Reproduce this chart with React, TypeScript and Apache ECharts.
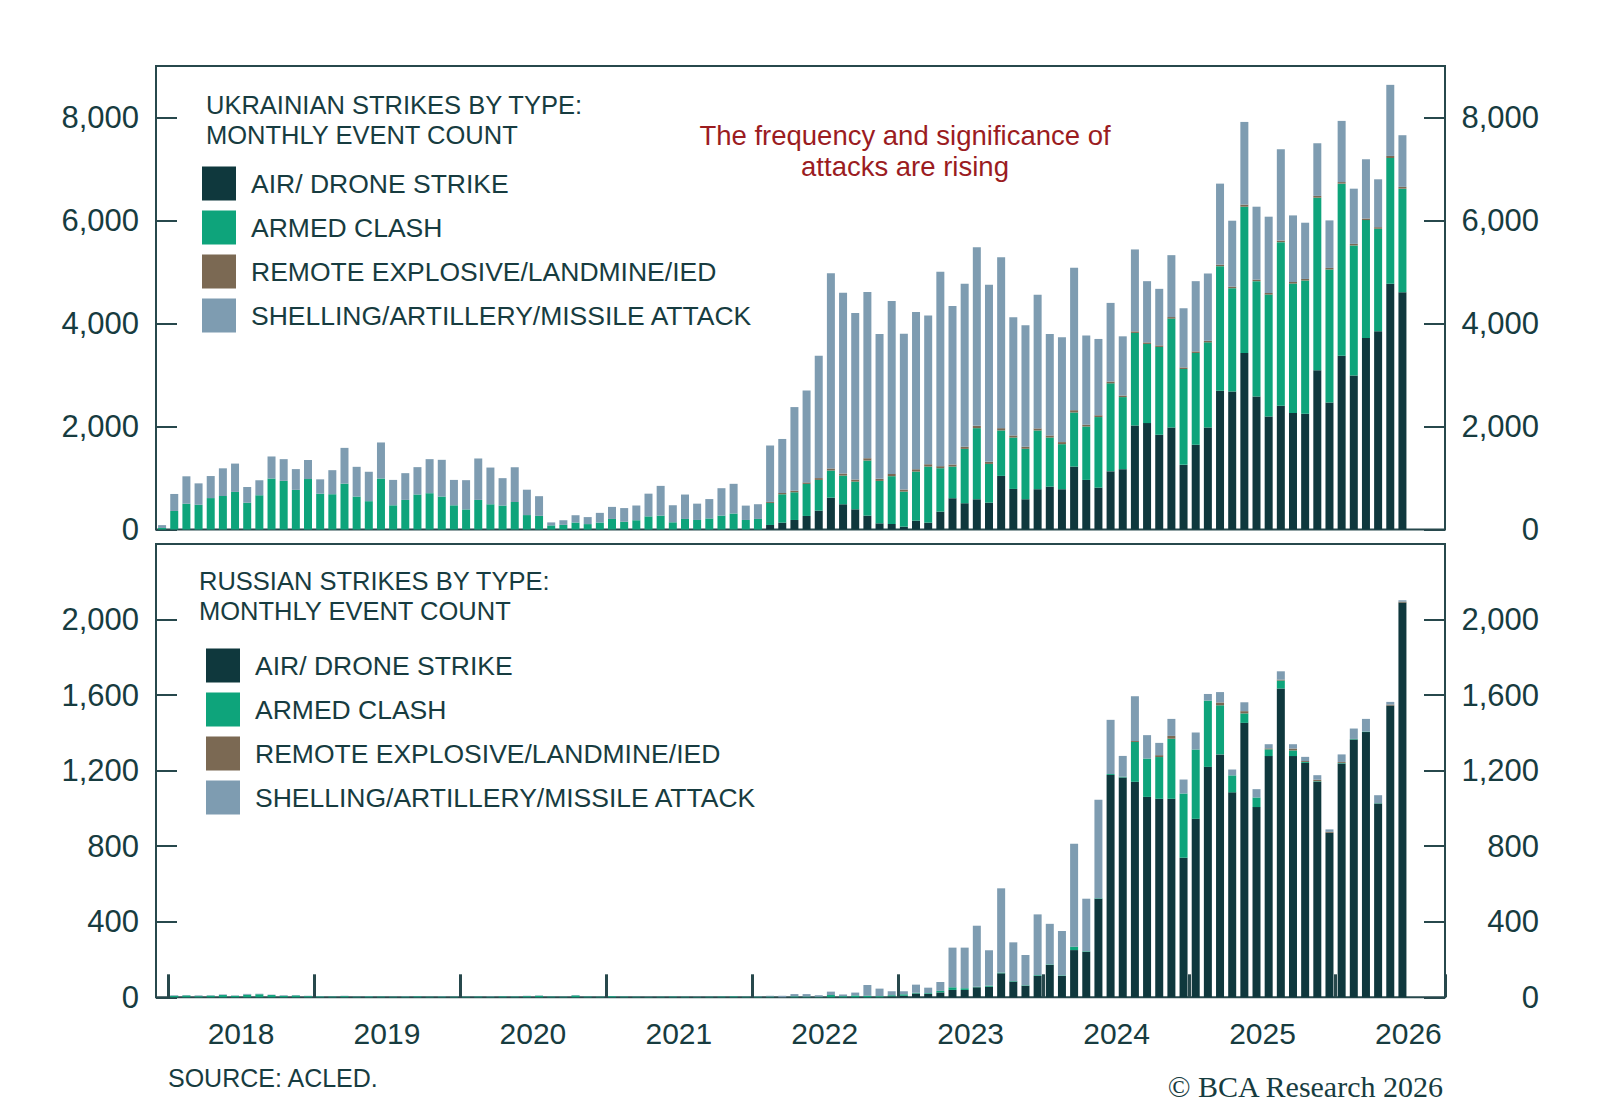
import React, { useEffect, useRef } from 'react';
import * as echarts from 'echarts';

// ---------- categories (monthly, Dec 2017 .. Sep 2026) ----------
const START_YEAR = 2017;
const START_MONTH = 11; // December (0-based)
const N_CATS = 106;
const categories: string[] = Array.from({ length: N_CATS }, (_, i) => {
  const m = START_MONTH + i;
  const y = START_YEAR + Math.floor(m / 12);
  return `${y}-${String((m % 12) + 1).padStart(2, '0')}`;
});
const yearLabels = ['2018', '2019', '2020', '2021', '2022', '2023', '2024', '2025', '2026'];
const seriesNames = [
  'AIR/ DRONE STRIKE',
  'ARMED CLASH',
  'REMOTE EXPLOSIVE/LANDMINE/IED',
  'SHELLING/ARTILLERY/MISSILE ATTACK',
];

// ---------- Ukrainian strikes (top panel) ----------
const ukrAir = [
  0, 0, 0, 0, 0, 0, 0, 0, 0, 0, 0, 0, 0,
  0, 0, 0, 0, 0, 0, 0, 0, 0, 0, 0, 0,
  0, 0, 0, 0, 0, 0, 0, 0, 0, 0, 0, 0,
  0, 0, 0, 0, 0, 0, 0, 0, 0, 0, 0, 0,
  0, 88, 133, 185, 263, 366, 619, 490, 392, 269, 120, 107, 55,
  172, 133, 347, 607, 510, 587, 522, 1041, 788, 587, 782, 833,
  782, 1222, 963, 813, 1130, 1171, 2020, 2066, 1838, 1981, 1255, 1644,
  1981, 2695, 2681, 3428, 2584, 2195, 2403, 2261, 2247, 3090, 2467, 3375,
  2992, 3720, 3848, 4770, 4607,
];
const ukrClash = [
  30, 360, 500, 480, 610, 650, 730, 520, 665, 990, 945, 770, 980,
  695, 685, 890, 640, 550, 990, 470, 575, 680, 705, 640, 470,
  390, 575, 490, 465, 535, 280, 265, 80, 90, 135, 105, 135,
  205, 150, 180, 255, 270, 140, 205, 185, 215, 270, 310, 185,
  205, 428, 551, 538, 622, 597, 526, 557, 538, 1070, 824, 928, 681,
  953, 1089, 843, 615, 1056, 1381, 752, 882, 998, 979, 1141, 953,
  875, 1050, 1037, 1370, 1708, 1400, 1797, 1537, 1707, 2114, 1862, 1784,
  1653, 2418, 2004, 2840, 2238, 2367, 3177, 2515, 2588, 3353, 2582, 3341,
  2524, 2288, 1992, 2444, 2011,
];
const ukrRemote = [
  0, 0, 0, 0, 0, 0, 0, 0, 0, 0, 0, 0, 0,
  0, 0, 0, 0, 0, 0, 0, 0, 0, 0, 0, 0,
  0, 0, 0, 0, 0, 0, 0, 0, 0, 0, 0, 0,
  0, 0, 0, 0, 0, 0, 0, 0, 0, 0, 0, 0,
  0, 20, 25, 30, 30, 35, 40, 40, 40, 45, 40, 45, 40,
  45, 45, 40, 40, 40, 45, 40, 45, 40, 40, 40, 40,
  40, 45, 35, 35, 35, 30, 30, 30, 30, 30, 30, 30,
  30, 30, 30, 40, 30, 30, 30, 30, 30, 35, 30, 30,
  30, 30, 30, 40, 35,
];
const ukrShelling = [
  55, 330, 533, 416, 428, 538, 550, 305, 292, 428, 421, 403, 370,
  279, 467, 695, 577, 571, 700, 493, 519, 531, 661, 713, 493,
  568, 804, 713, 532, 674, 493, 382, 58, 90, 142, 136, 188,
  234, 266, 286, 441, 577, 331, 474, 317, 376, 532, 577, 279,
  286, 1095, 1049, 1624, 1786, 2377, 3792, 3508, 3236, 3230, 2813, 3359, 3027,
  3055, 2887, 3774, 3080, 3164, 3470, 3437, 3320, 2295, 2359, 2593, 1971,
  2035, 2764, 1730, 1482, 1527, 1150, 1591, 1189, 1098, 1202, 1149, 1364,
  1307, 1573, 1281, 1606, 1416, 1482, 1773, 1293, 1092, 1022, 923, 1188,
  1072, 1151, 930, 1380, 1003,
];

// ---------- Russian strikes (bottom panel) ----------
const rusAir = [
  0, 0, 0, 0, 0, 0, 0, 0, 0, 0, 0, 0, 0,
  0, 0, 0, 0, 0, 0, 0, 0, 0, 0, 0, 0,
  0, 0, 0, 0, 0, 0, 0, 0, 0, 0, 0, 0,
  0, 0, 0, 0, 0, 0, 0, 0, 0, 0, 0, 0,
  0, 0, 0, 0, 0, 0, 0, 0, 0, 0, 0, 5, 8,
  20, 18, 26, 39, 39, 53, 56, 127, 83, 61, 113, 171,
  113, 250, 241, 522, 1177, 1164, 1141, 1061, 1051, 1051, 739, 945,
  1220, 1286, 1085, 1453, 1007, 1277, 1635, 1277, 1241, 1141, 871, 1238,
  1365, 1404, 1026, 1545, 2090,
];
const rusClash = [
  0, 8, 10, 6, 9, 12, 8, 14, 16, 12, 8, 10, 6,
  5, 4, 6, 3, 5, 4, 3, 4, 5, 3, 4, 3,
  3, 4, 3, 5, 4, 6, 8, 4, 3, 10, 4, 3,
  6, 4, 3, 2, 3, 4, 3, 2, 3, 4, 5, 3,
  3, 4, 0, 5, 4, 3, 12, 6, 10, 8, 6, 6, 8,
  4, 4, 8, 14, 9, 3, 6, 4, 3, 3, 4, 3,
  3, 18, 3, 3, 5, 4, 211, 203, 221, 318, 340, 367,
  351, 260, 90, 50, 51, 36, 42, 30, 5, 3, 0, 3,
  3, 3, 2, 0, 0,
];
const rusRemote = [
  0, 0, 0, 0, 0, 0, 0, 0, 0, 0, 0, 0, 0,
  0, 0, 0, 0, 0, 0, 0, 0, 0, 0, 0, 0,
  0, 0, 0, 0, 0, 0, 0, 0, 0, 0, 0, 0,
  0, 0, 0, 0, 0, 0, 0, 0, 0, 0, 0, 0,
  0, 0, 0, 0, 0, 0, 0, 0, 0, 0, 0, 0, 0,
  0, 0, 0, 0, 0, 0, 0, 0, 0, 0, 0, 0,
  0, 0, 0, 0, 0, 0, 5, 0, 10, 15, 0, 0,
  0, 15, 0, 12, 0, 5, 5, 10, 5, 8, 5, 5,
  0, 0, 0, 5, 5,
];
const rusShelling = [
  0, 3, 2, 4, 2, 3, 2, 4, 3, 2, 3, 2, 2,
  2, 1, 2, 1, 2, 1, 1, 2, 1, 1, 2, 1,
  1, 1, 2, 1, 1, 2, 2, 1, 1, 2, 1, 1,
  1, 1, 1, 1, 1, 1, 1, 1, 1, 1, 1, 1,
  2, 4, 8, 12, 13, 8, 18, 9, 15, 57, 40, 21, 16,
  43, 29, 47, 210, 215, 323, 187, 446, 205, 160, 322, 215,
  235, 545, 278, 521, 287, 110, 237, 124, 65, 90, 74, 90,
  35, 55, 31, 47, 44, 22, 44, 23, 22, 24, 13, 40,
  55, 67, 42, 14, 7,
];

// ---------- styling ----------
const COLORS = ['#0f383d', '#0ea47b', '#7b6953', '#7e9cb1'];
const TEXT = '#173c40';
const FRAME = '#27484c';
const RED = '#9b1c1f';
const FONT = "'Liberation Sans', Arial, sans-serif";

const fmt = (v: number) => v.toLocaleString('en-US');

function makeYAxis(grid: number, pos: 'left' | 'right', max: number, interval: number) {
  return {
    type: 'value',
    gridIndex: grid,
    position: pos,
    min: 0,
    max,
    interval,
    splitLine: { show: false },
    axisLine: { show: false },
    axisTick: { show: true, inside: true, length: 21, lineStyle: { color: FRAME, width: 2 } },
    axisLabel: {
      showMaxLabel: false,
      margin: pos === 'left' ? 17 : 94,
      align: 'right',
      fontSize: 31,
      color: TEXT,
      fontFamily: FONT,
      formatter: fmt,
    },
  };
}

function makeSeries(prefix: string, xi: number, yi: number, arrays: number[][]) {
  return arrays.map((d, k) => ({
    name: seriesNames[k],
    type: 'bar',
    stack: prefix,
    xAxisIndex: xi,
    yAxisIndex: yi,
    barWidth: 8,
    data: d,
    itemStyle: { color: COLORS[k] },
    emphasis: { disabled: true },
  }));
}

function makeLegend(left: number, top: number) {
  return {
    left,
    top,
    orient: 'vertical',
    icon: 'rect',
    itemWidth: 34,
    itemHeight: 34,
    itemGap: 10,
    padding: 0,
    selectedMode: false,
    data: seriesNames,
    textStyle: { fontSize: 26.5, color: TEXT, fontFamily: FONT, padding: [0, 0, 0, 10] },
  };
}

function txt(text: string, x: number, y: number, opts: any = {}) {
  return {
    type: 'text',
    x,
    y,
    silent: true,
    style: {
      text,
      fill: opts.fill || TEXT,
      font: opts.font || `25.5px ${FONT}`,
      lineHeight: opts.lineHeight || 30,
      textAlign: opts.align || 'left',
      textVerticalAlign: 'top',
    },
  };
}

export default function App() {
  const ref = useRef<HTMLDivElement>(null);
  useEffect(() => {
    if (!ref.current) return;
    const chart = echarts.init(ref.current, undefined, { renderer: 'svg' });
    const option: any = {
      animation: false,
      backgroundColor: '#ffffff',
      grid: [
        { left: 156, top: 66, width: 1289, height: 463.5, show: true, borderColor: FRAME, borderWidth: 2, backgroundColor: 'transparent' },
        { left: 156, top: 544, width: 1289, height: 453.3, show: true, borderColor: FRAME, borderWidth: 2, backgroundColor: 'transparent' },
      ],
      xAxis: [
        {
          type: 'category',
          gridIndex: 0,
          data: categories,
          axisLine: { show: false },
          axisTick: { show: false },
          axisLabel: { show: false },
        },
        {
          type: 'category',
          gridIndex: 1,
          data: categories,
          axisLine: { show: false },
          axisTick: {
            show: true,
            inside: true,
            length: 23,
            interval: (i: number) => i % 12 === 1,
            lineStyle: { color: FRAME, width: 3 },
          },
          axisLabel: {
            interval: (i: number) => i % 12 === 6,
            formatter: (_v: string, i: number) => yearLabels[Math.round((i - 6) / 12)] || '',
            margin: 21,
            padding: [0, 0, 0, 12],
            fontSize: 30,
            color: TEXT,
            fontFamily: FONT,
          },
        },
      ],
      yAxis: [
        makeYAxis(0, 'left', 9000, 2000),
        makeYAxis(0, 'right', 9000, 2000),
        makeYAxis(1, 'left', 2400, 400),
        makeYAxis(1, 'right', 2400, 400),
      ],
      legend: [makeLegend(202, 166.5), makeLegend(206, 648.5)],
      series: [
        ...makeSeries('ukr', 0, 0, [ukrAir, ukrClash, ukrRemote, ukrShelling]),
        ...makeSeries('rus', 1, 2, [rusAir, rusClash, rusRemote, rusShelling]),
      ],
      graphic: [
        txt('UKRAINIAN STRIKES BY TYPE:\nMONTHLY EVENT COUNT', 206, 89.5),
        txt('RUSSIAN STRIKES BY TYPE:\nMONTHLY EVENT COUNT', 199, 566),
        txt('The frequency and significance of\nattacks are rising', 905, 119.5, {
          fill: RED,
          align: 'center',
          font: `27.5px ${FONT}`,
          lineHeight: 31,
        }),
        txt('SOURCE: ACLED.', 168, 1063, { font: `25px ${FONT}` }),
        txt('\u00A9 BCA Research 2026', 1443, 1071, { font: "30px 'Liberation Serif', serif", align: 'right' }),
      ],
    };
    chart.setOption(option);
    return () => chart.dispose();
  }, []);
  return (
    <div
      ref={ref}
      style={{ position: 'fixed', left: 0, top: 0, width: 1600, height: 1107, background: '#ffffff' }}
    />
  );
}
